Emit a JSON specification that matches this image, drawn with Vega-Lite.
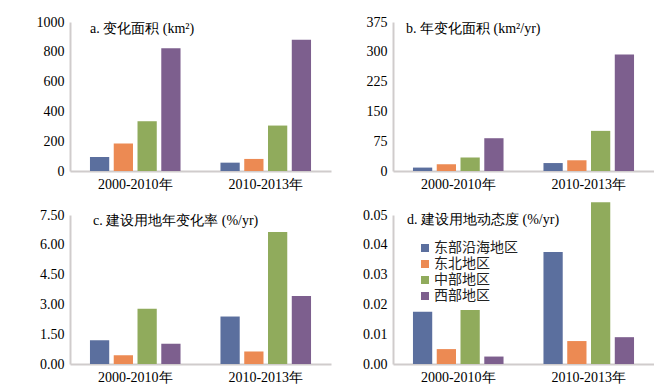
{
  "$schema": "https://vega.github.io/schema/vega-lite/v6.json",
  "padding": {"left": 36, "top": 15, "right": 0, "bottom": 0},
  "background": "white",
  "data": {"values": [
    {"panel": "a", "period": "2000-2010年", "region": "东部沿海地区", "value": 94},
    {"panel": "a", "period": "2000-2010年", "region": "东北地区", "value": 184},
    {"panel": "a", "period": "2000-2010年", "region": "中部地区", "value": 334},
    {"panel": "a", "period": "2000-2010年", "region": "西部地区", "value": 823},
    {"panel": "a", "period": "2010-2013年", "region": "东部沿海地区", "value": 56},
    {"panel": "a", "period": "2010-2013年", "region": "东北地区", "value": 81},
    {"panel": "a", "period": "2010-2013年", "region": "中部地区", "value": 305},
    {"panel": "a", "period": "2010-2013年", "region": "西部地区", "value": 881},
    {"panel": "b", "period": "2000-2010年", "region": "东部沿海地区", "value": 8.6},
    {"panel": "b", "period": "2000-2010年", "region": "东北地区", "value": 17},
    {"panel": "b", "period": "2000-2010年", "region": "中部地区", "value": 34},
    {"panel": "b", "period": "2000-2010年", "region": "西部地区", "value": 82.5},
    {"panel": "b", "period": "2010-2013年", "region": "东部沿海地区", "value": 20},
    {"panel": "b", "period": "2010-2013年", "region": "东北地区", "value": 27},
    {"panel": "b", "period": "2010-2013年", "region": "中部地区", "value": 101},
    {"panel": "b", "period": "2010-2013年", "region": "西部地区", "value": 293},
    {"panel": "c", "period": "2000-2010年", "region": "东部沿海地区", "value": 1.2},
    {"panel": "c", "period": "2000-2010年", "region": "东北地区", "value": 0.44},
    {"panel": "c", "period": "2000-2010年", "region": "中部地区", "value": 2.78},
    {"panel": "c", "period": "2000-2010年", "region": "西部地区", "value": 1.02},
    {"panel": "c", "period": "2010-2013年", "region": "东部沿海地区", "value": 2.39},
    {"panel": "c", "period": "2010-2013年", "region": "东北地区", "value": 0.63},
    {"panel": "c", "period": "2010-2013年", "region": "中部地区", "value": 6.65},
    {"panel": "c", "period": "2010-2013年", "region": "西部地区", "value": 3.42},
    {"panel": "d", "period": "2000-2010年", "region": "东部沿海地区", "value": 0.0175},
    {"panel": "d", "period": "2000-2010年", "region": "东北地区", "value": 0.005},
    {"panel": "d", "period": "2000-2010年", "region": "中部地区", "value": 0.0181},
    {"panel": "d", "period": "2000-2010年", "region": "西部地区", "value": 0.0025},
    {"panel": "d", "period": "2010-2013年", "region": "东部沿海地区", "value": 0.0376},
    {"panel": "d", "period": "2010-2013年", "region": "东北地区", "value": 0.0077},
    {"panel": "d", "period": "2010-2013年", "region": "中部地区", "value": 0.0543},
    {"panel": "d", "period": "2010-2013年", "region": "西部地区", "value": 0.009}
  ]},
  "columns": 2,
  "spacing": {"row": 44, "column": 62},
  "bounds": "flush",
  "resolve": {"legend": {"color": "independent"}, "scale": {"y": "independent"}},
  "config": {
    "view": {"stroke": null},
    "axis": {"domainColor": "#d0cccc", "domainWidth": 2, "ticks": false, "grid": false, "labelFont": "Liberation Serif", "labelFontSize": 14, "labelColor": "#000000", "labelPadding": 6},
    "title": {"anchor": "start", "frame": "group", "offset": -4, "baseline": "middle", "fontSize": 14, "font": "Liberation Serif", "fontWeight": "normal", "color": "#000000"}
  },
  "concat": [
    {
      "width": 261, "height": 149,
      "title": {"text": "a. 变化面积 (km²)", "dx": 20, "dy": 17},
      "transform": [{"filter": "datum.panel === 'a'"}],
      "mark": {"type": "bar"},
      "encoding": {
        "x": {"field": "period", "type": "nominal", "sort": ["2000-2010年", "2010-2013年"], "scale": {"paddingInner": 0, "paddingOuter": 0}, "axis": {"labelAngle": 0, "labelDx": 11, "title": null}},
        "xOffset": {"field": "region", "type": "nominal", "sort": ["东部沿海地区", "东北地区", "中部地区", "西部地区"], "scale": {"paddingInner": 0.19, "paddingOuter": 0.84}},
        "y": {"field": "value", "type": "quantitative", "scale": {"domain": [0, 1000]}, "axis": {"values": [0, 200, 400, 600, 800, 1000], "format": "d", "title": null}},
        "color": {"field": "region", "type": "nominal", "scale": {"domain": ["东部沿海地区", "东北地区", "中部地区", "西部地区"], "range": ["#5b6f9e", "#ec8a53", "#90ab5c", "#7d5f8e"]}, "legend": null}
      }
    },
    {
      "width": 261, "height": 149,
      "title": {"text": "b. 年变化面积 (km²/yr)", "dx": 13, "dy": 17},
      "transform": [{"filter": "datum.panel === 'b'"}],
      "mark": {"type": "bar"},
      "encoding": {
        "x": {"field": "period", "type": "nominal", "sort": ["2000-2010年", "2010-2013年"], "scale": {"paddingInner": 0, "paddingOuter": 0}, "axis": {"labelAngle": 0, "labelDx": 8, "title": null}},
        "xOffset": {"field": "region", "type": "nominal", "sort": ["东部沿海地区", "东北地区", "中部地区", "西部地区"], "scale": {"paddingInner": 0.19, "paddingOuter": 0.84}},
        "y": {"field": "value", "type": "quantitative", "scale": {"domain": [0, 375]}, "axis": {"values": [0, 75, 150, 225, 300, 375], "format": "d", "title": null}},
        "color": {"field": "region", "type": "nominal", "scale": {"domain": ["东部沿海地区", "东北地区", "中部地区", "西部地区"], "range": ["#5b6f9e", "#ec8a53", "#90ab5c", "#7d5f8e"]}, "legend": null}
      }
    },
    {
      "width": 261, "height": 149,
      "title": {"text": "c. 建设用地年变化率 (%/yr)", "dx": 23, "dy": 16},
      "transform": [{"filter": "datum.panel === 'c'"}],
      "mark": {"type": "bar"},
      "encoding": {
        "x": {"field": "period", "type": "nominal", "sort": ["2000-2010年", "2010-2013年"], "scale": {"paddingInner": 0, "paddingOuter": 0}, "axis": {"labelAngle": 0, "labelDx": 12, "title": null}},
        "xOffset": {"field": "region", "type": "nominal", "sort": ["东部沿海地区", "东北地区", "中部地区", "西部地区"], "scale": {"paddingInner": 0.19, "paddingOuter": 0.84}},
        "y": {"field": "value", "type": "quantitative", "scale": {"domain": [0, 7.5]}, "axis": {"values": [0, 1.5, 3, 4.5, 6, 7.5], "format": ".2f", "title": null}},
        "color": {"field": "region", "type": "nominal", "scale": {"domain": ["东部沿海地区", "东北地区", "中部地区", "西部地区"], "range": ["#5b6f9e", "#ec8a53", "#90ab5c", "#7d5f8e"]}, "legend": null}
      }
    },
    {
      "width": 261, "height": 149,
      "title": {"text": "d. 建设用地动态度 (%/yr)", "dx": 14, "dy": 21},
      "transform": [{"filter": "datum.panel === 'd'"}],
      "mark": {"type": "bar"},
      "encoding": {
        "x": {"field": "period", "type": "nominal", "sort": ["2000-2010年", "2010-2013年"], "scale": {"paddingInner": 0, "paddingOuter": 0}, "axis": {"labelAngle": 0, "labelDx": 6, "title": null}},
        "xOffset": {"field": "region", "type": "nominal", "sort": ["东部沿海地区", "东北地区", "中部地区", "西部地区"], "scale": {"paddingInner": 0.19, "paddingOuter": 0.84}},
        "y": {"field": "value", "type": "quantitative", "scale": {"domain": [0, 0.05]}, "axis": {"values": [0, 0.01, 0.02, 0.03, 0.04, 0.05], "format": ".2f", "title": null}},
        "color": {"field": "region", "type": "nominal", "scale": {"domain": ["东部沿海地区", "东北地区", "中部地区", "西部地区"], "range": ["#5b6f9e", "#ec8a53", "#90ab5c", "#7d5f8e"]}, "legend": {"orient": "none", "legendX": 25, "legendY": 26, "title": null, "symbolType": "square", "symbolSize": 64, "symbolStrokeWidth": 0, "labelFont": "Noto Sans CJK SC", "labelFontSize": 14, "labelColor": "#222222", "rowPadding": 2, "labelOffset": 2, "padding": 0}}
      }
    }
  ]
}
